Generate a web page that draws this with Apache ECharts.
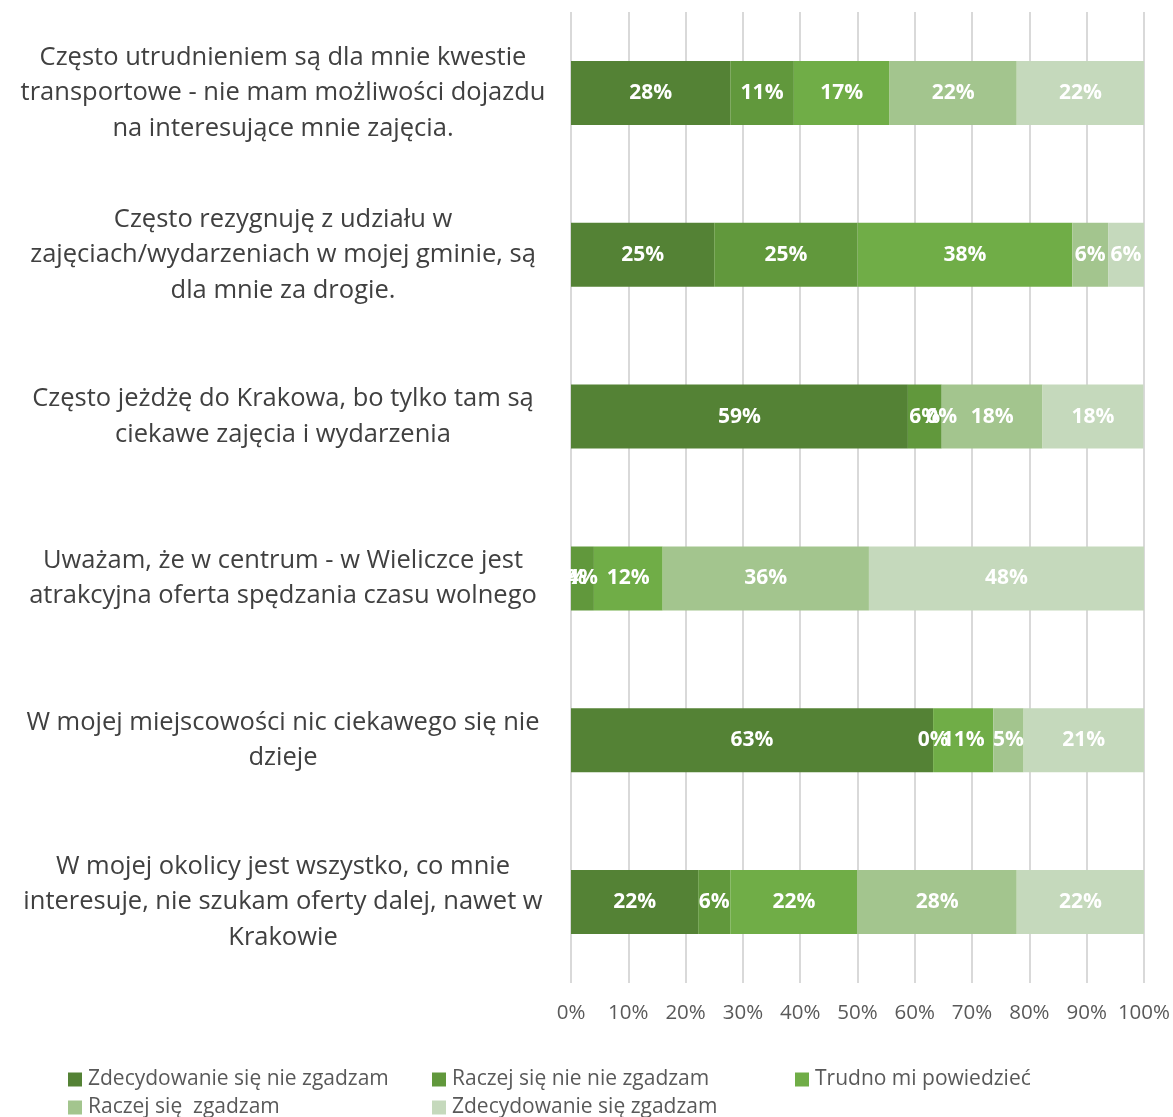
<!DOCTYPE html>
<html>
<head>
<meta charset="utf-8">
<script src="https://cdn.jsdelivr.net/npm/echarts@6/dist/echarts.min.js"></script>
<style>html,body{margin:0;padding:0;background:#fff}#c{width:1173px;height:1117px}</style>
</head>
<body>
<div id="c"></div>
<script>
const categories = [
  "Często utrudnieniem są dla mnie kwestie\ntransportowe - nie mam możliwości dojazdu\nna interesujące mnie zajęcia.",
  "Często rezygnuję z udziału w\nzajęciach/wydarzeniach w mojej gminie, są\ndla mnie za drogie.",
  "Często jeżdżę do Krakowa, bo tylko tam są\nciekawe zajęcia i wydarzenia",
  "Uważam, że w centrum - w Wieliczce jest\natrakcyjna oferta spędzania czasu wolnego",
  "W mojej miejscowości nic ciekawego się nie\ndzieje",
  "W mojej okolicy jest wszystko, co mnie\ninteresuje, nie szukam oferty dalej, nawet w\nKrakowie"
];
const seriesNames = [
  "Zdecydowanie się nie zgadzam",
  "Raczej się nie nie zgadzam",
  "Trudno mi powiedzieć",
  "Raczej się  zgadzam",
  "Zdecydowanie się zgadzam"
];
const s1 = [27.8, 25.0, 58.8, 0.0, 63.2, 22.2];
const s2 = [11.1, 25.0, 5.9, 4.0, 0.0, 5.6];
const s3 = [16.7, 37.5, 0.0, 12.0, 10.5, 22.2];
const s4 = [22.2, 6.25, 17.6, 36.0, 5.3, 27.8];
const s5 = [22.2, 6.25, 17.6, 48.0, 21.1, 22.2];
const tickLabels = ["0%","10%","20%","30%","40%","50%","60%","70%","80%","90%","100%"];
const colors = ["#548235", "#61983C", "#70AD47", "#A3C58E", "#C5D9BC"];
const allValues = [s1, s2, s3, s4, s5];

const FONT = "Open Sans";
const chart = echarts.init(document.getElementById('c'), null, {renderer: 'canvas'});

const legendPos = [
  {left: 68, top: 1069},
  {left: 432, top: 1069},
  {left: 795, top: 1069},
  {left: 68, top: 1097},
  {left: 432, top: 1097}
];

const option = {
  animation: false,
  backgroundColor: '#fff',
  grid: {left: 571, right: 28, top: 12, bottom: 134, containLabel: false},
  legend: seriesNames.map((n, i) => ({
    data: [n],
    left: legendPos[i].left,
    top: legendPos[i].top,
    icon: 'rect',
    itemWidth: 14,
    itemHeight: 14,
    itemGap: 6,
    padding: 0,
    textStyle: {fontFamily: FONT, fontSize: 21, color: '#595959', padding: [2, 0, 0, 1]}
  })),
  xAxis: {
    type: 'value',
    min: 0,
    max: 100,
    interval: 10,
    axisLine: {show: false},
    axisTick: {show: false},
    splitLine: {show: true, lineStyle: {color: '#D9D9D9', width: 2}},
    axisLabel: {
      fontFamily: FONT, fontSize: 20.5, color: '#595959', margin: 20,
      formatter: v => tickLabels[Math.round(v / 10)]
    }
  },
  yAxis: {
    type: 'category',
    inverse: true,
    data: categories,
    axisLine: {show: false},
    axisTick: {show: false},
    axisLabel: {
      fontFamily: FONT, fontSize: 25.5, color: '#404040',
      align: 'center', margin: 288, lineHeight: 35.5
    }
  },
  series: allValues.map((vals, i) => ({
    name: seriesNames[i],
    type: 'bar',
    stack: 'total',
    barWidth: 64,
    data: vals,
    itemStyle: {color: colors[i]},
    label: {
      show: true,
      position: 'inside',
      fontFamily: FONT,
      fontSize: 21,
      fontWeight: 'bold',
      color: '#fff',
      padding: [3, 0, 0, 0],
      formatter: p => Math.round(p.value) + '%'
    }
  }))
};
chart.setOption(option);
</script>
</body>
</html>
